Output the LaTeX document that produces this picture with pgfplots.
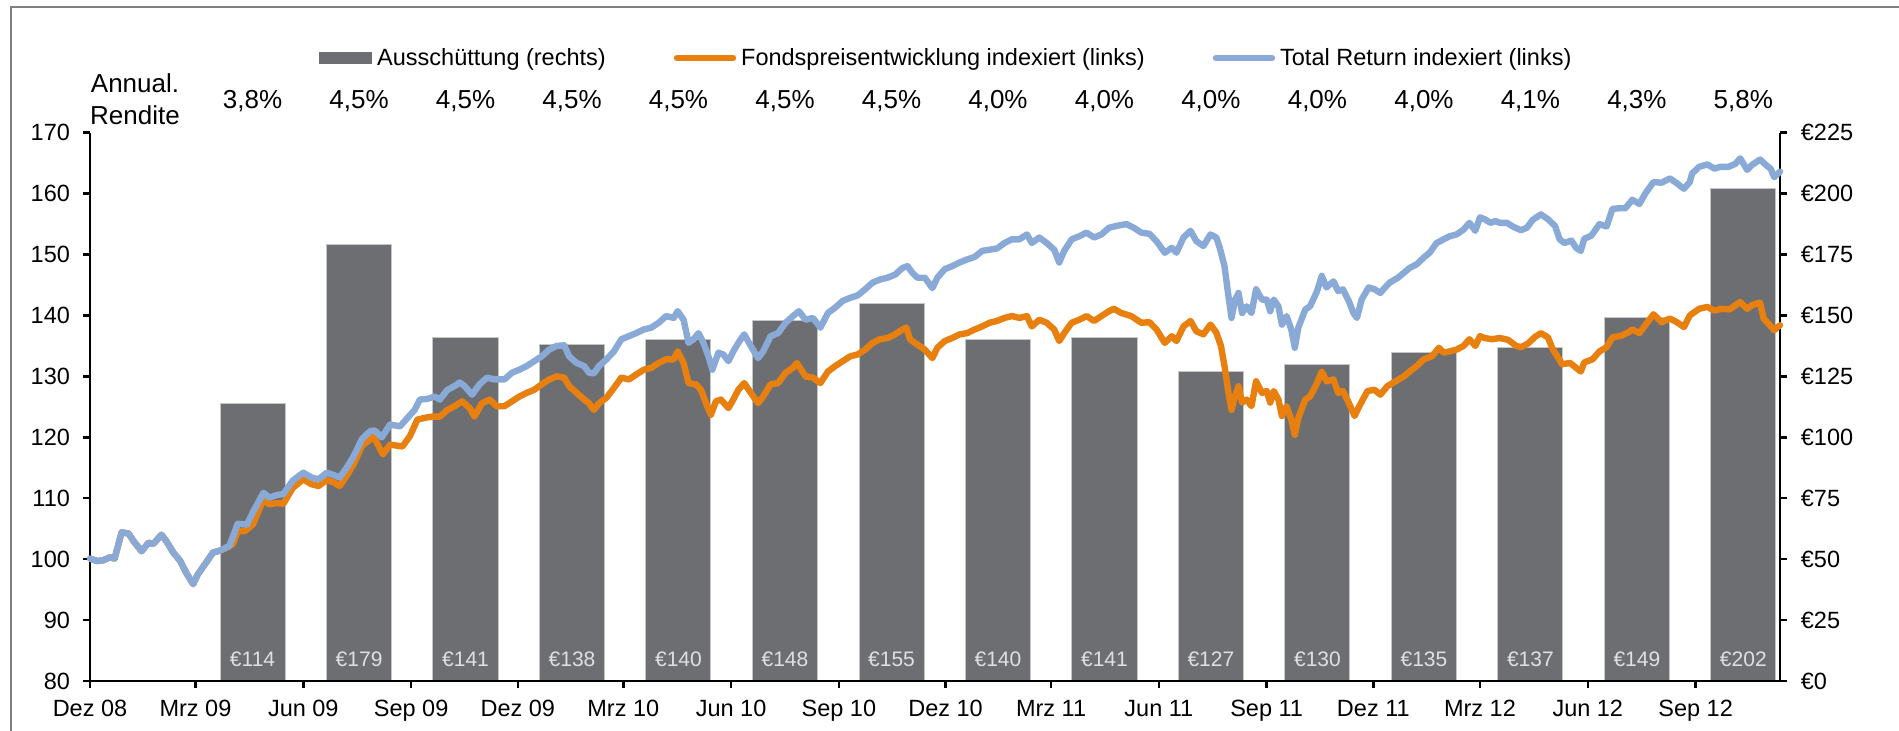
\documentclass[border=0pt]{standalone}
\usepackage{fontspec}
\setmainfont{Liberation Sans}
\usepackage{pgfplots}
\usepackage{pgfplotstable}
\pgfplotsset{compat=1.18}
\definecolor{barg}{RGB}{109,110,114}
\definecolor{orng}{RGB}{232,128,16}
\definecolor{blu}{RGB}{137,170,214}
\definecolor{framec}{RGB}{128,128,128}

\pgfplotstableread{
x v
138.7 114
229.6 179
320.4 141
411.3 138
502.1 140
593.0 148
683.9 155
774.7 140
865.6 141
956.4 127
1047.3 130
1138.2 135
1229.0 137
1319.9 149
1410.7 202
}\bardata

\pgfplotstableread{
d v
0 100.1
6 99.7
11 99.8
17 100.3
21 100.1
27 104.4
33 104.2
37 103
44 101.3
50 102.7
54 102.5
61 104
65 103
71 101.1
77 99.7
82 97.8
88 95.9
92 97.5
100 99.7
105 101.1
111 101.4
119 102.2
126 105.8
134 105.7
139 107.7
148 110.9
153 110.1
159 110.5
165 110.7
173 112.9
182 114.2
189 113.4
195 113.1
202 114.2
208 113.8
213 113.4
219 115
225 116.9
232 119.7
239 121
243 121.1
249 120
256 122.1
264.5 121.8
277 124.5
281.5 126.2
288 126.3
294 126.7
298.5 126.2
305 127.8
311 128.4
315.4 129.0
319.7 128.4
326 127
332.4 128.7
338.8 129.8
345 129.5
353.6 129.5
360 130.6
366.4 131.1
372.7 131.7
379 132.5
385.5 133.3
391.8 134.4
398.2 135
404.6 135.1
408.8 133.3
415.2 132.2
421.6 131.7
425.8 130.6
430 130.5
434.3 131.7
440.7 132.8
447 134.1
453.4 136.1
459.8 136.6
466 137.1
472.5 137.7
478.9 138
485.2 138.8
491.6 139.9
498 139.6
501.4 140.7
506.5 139.3
510.7 135.5
515 136.1
519.2 137.1
523.4 135.5
527.7 133.3
531 131.1
536.2 133.9
540.4 133.6
544.7 132.5
548.9 134.1
553.2 135.5
558.2 136.9
563.8 135
570 133
574.4 134.1
580.7 136.6
587.1 137.1
593.5 138.8
599.8 139.9
604.9 140.7
610.5 139.3
616.8 139.6
623.2 138
629.6 140.4
635.9 141.3
642.3 142.4
648.7 142.9
655 143.3
661.4 144.3
667.8 145.4
674.1 145.9
680.5 146.2
686.9 146.7
693.2 147.8
697.5 148.1
701.7 147
706 146.2
712.3 146.2
718.7 144.5
723 146.2
729.3 147.6
735.7 148.1
742 148.7
748.4 149.2
754.8 149.6
761.2 150.6
767.5 150.8
773.9 151
780.3 151.9
786.6 152.5
793 152.5
799.4 153.3
803.6 151.9
810 152.8
816.3 151.9
822.7 150.8
827 148.7
831.2 150.6
837.6 152.5
844 153
850.3 153.6
856.7 152.8
863 153.3
869.4 154.4
875.8 154.7
884.3 155
890.6 154.4
897 153.6
904 153.4
910 152.2
917 150.3
923 151.1
927 150.3
933 152.8
939 153.9
944 152.2
950 151.4
956 153.3
961 152.8
964 151.1
968 148.1
971 143.7
974 139.6
977 142.6
980 143.7
983 140.4
987 141.5
991 140.4
995 144.3
1000 142.6
1004 142.6
1007 140.7
1010 142.6
1014 141.5
1017 138.5
1021 139.9
1025 137.7
1028 134.7
1031 138
1037 141
1041 141.5
1047 144
1051 146.5
1055 144.6
1061 145.6
1065 144
1069 144.3
1074 142.4
1078 140.4
1081 139.6
1085 142.6
1091 144.6
1096 144.3
1101 143.7
1105 144.6
1109 145.4
1116 146.2
1121 147
1126 147.8
1132 148.4
1138 149.5
1143 150.3
1149 151.9
1155 152.5
1160 153
1166 153.3
1172 154.1
1177 155.2
1182 153.9
1186 156.1
1190 155.8
1195 155.2
1199 155.5
1203 155.2
1209 155.2
1215 154.5
1221 154
1226 154.4
1231 155.7
1238 156.6
1244 155.8
1250 154.7
1254 152.5
1258 151.9
1264 152.3
1268 151.1
1272 150.6
1275 152.6
1281 153.1
1288 155
1294 154.6
1299 157.5
1305 157.6
1310 157.6
1316 159
1322 158.3
1327 160
1334 161.9
1341 161.8
1348 162.5
1354 161.7
1360 160.8
1365 161.9
1367 163.3
1373 164.4
1380 164.8
1386 164.1
1391 164.4
1398 164.4
1404 164.9
1408 165.8
1414 163.9
1418 164.7
1425 165.6
1430 164.7
1434 164.1
1437 162.7
1442 163.6
}\bluedata

\pgfplotstableread{
d v
0 100.1
6 99.7
11 99.8
17 100.3
21 100.1
27 104.4
33 104.2
37 103
44 101.3
50 102.7
54 102.5
61 104
65 103
71 101.1
77 99.7
82 97.8
88 95.9
92 97.5
100 99.7
105 101.1
111 101.4
117 101.9
122 102.5
126 104.6
132 104.6
139 105.7
148 109.8
153 109
159 109.2
165 109.1
173 111.7
182 113.1
189 112.3
195 112
202 113
208 112.6
213 112
219 113.7
225 115.6
232 118.6
242 120.1
250 117.2
256 118.8
266.6 118.5
273 120.2
279.3 122.9
285.7 123.2
292 123.4
298.5 123.4
305 124.5
311 125.1
317.5 125.9
324 124.8
328 123.4
334.5 125.6
341 126.2
347 125.1
353.6 125.1
360 125.9
366.4 126.7
372.7 127.3
379 127.8
385.5 128.7
391.8 129.5
398.2 130
404.6 129.8
408.8 128.4
415.2 127.3
421.6 126.2
425.8 125.6
430 124.5
434.3 125.6
440.7 126.5
447 128.1
453.4 129.8
459.8 129.5
466 130.3
472.5 131.1
478.9 131.4
485.2 132.2
491.6 132.8
498 132.8
501.4 134.1
506.5 132.2
510.7 128.9
517 128.7
521.3 127.8
525.6 125.6
529.8 123.7
534 125.9
538.3 126.2
544.7 124.8
548.9 126.2
553.2 127.8
558.2 128.9
563.8 127.3
570 125.6
574.4 126.7
580.7 128.7
587.1 128.9
593.5 130.6
599.8 131.4
603.2 132.2
610.5 130
616.8 129.8
623.2 128.9
629.6 130.8
635.9 131.7
642.3 132.5
648.7 133.3
655 133.6
661.4 134.4
667.8 135.5
674.1 136.1
680.5 136.3
686.9 136.9
693.2 137.7
696.6 138
699.6 136.1
706 135.2
712.3 134.4
718.7 133
723 134.7
729.3 135.8
735.7 136.3
742 136.9
748.4 137.1
754.8 137.7
761.2 138.2
767.5 138.8
773.9 139.1
780.3 139.6
786.6 139.9
793 139.6
799.4 139.9
803.6 138.2
810 139.3
816.3 138.8
822.7 137.7
827 135.8
831.2 137.1
837.6 138.8
844 139.3
850.3 139.9
856.7 139.1
863 139.9
869.4 140.7
873.6 141.1
880 140.4
888.5 139.9
897 138.8
904 138.9
910 137.7
917 135.5
923 136.6
927 135.8
933 138.2
939 139.1
944 137.4
950 136.9
956 138.5
961 137.2
965 135
968 131.7
971 127.8
974 124.5
977 126.7
980 128.4
983 125.7
987 126.2
991 125.1
995 129.2
1000 127.3
1004 127.6
1007 125.7
1010 127.6
1014 126.2
1017 123.5
1021 125.1
1025 122.9
1028 120.4
1031 123.2
1037 126.2
1041 126.7
1047 128.9
1051 130.8
1055 129.2
1061 129.5
1065 127.3
1069 127.6
1074 125.7
1079 123.5
1083 125.1
1090 127.6
1096 127.8
1101 127
1107 128.4
1114 129.2
1121 130
1126 130.8
1132 131.7
1138 132.8
1145 133.3
1151 134.7
1155 133.9
1160 134.1
1166 134.4
1172 135
1177 136.1
1182 135
1186 136.6
1190 136.3
1196 136.1
1203 136.3
1210 136
1217 135
1221 134.8
1227 135.4
1233 136.5
1238 137.1
1244 136.4
1248 134.5
1252 133.3
1256 132
1263 132.2
1268 131.4
1272 130.8
1275 132.3
1282 132.8
1288 134.1
1294 134.8
1299 136.4
1307 136.7
1313 137.3
1316 137.7
1322 137.1
1327 138.4
1334 140.2
1341 138.9
1348 139.5
1354 138.9
1360 138.1
1365 140
1373 141.1
1380 141.4
1386 140.8
1392 141.1
1399 141
1408 142.2
1414 141.1
1418 141.7
1425 142.1
1428 139.5
1431 138.9
1437 137.6
1442 138.4
}\orangedata

\pgfplotsset{
  base/.style={
    scale only axis, width=845pt, height=274.15pt,
    at={(45pt,25pt)}, anchor=south west,
    xmin=0, xmax=1442, clip=false,
    axis line style={line width=1.25pt, black},
    tick style={line width=1.25pt, black},
    major tick length=3.5pt, tick align=outside,
    ticklabel style={font=\fontsize{11.75}{14}\selectfont},
  },
  lineleg/.style={legend image code/.code={\draw[##1] (0pt,0pt) -- (28pt,0pt);}},
  barleg/.style={legend image code/.code={\fill[barg] (0pt,-2.75pt) rectangle (26pt,2.75pt);}},
}
\newcommand{\pct}{\fontsize{13}{16}\selectfont}
\newcommand{\eurl}{\fontsize{10.5}{12}\selectfont}

\begin{document}
\begin{tikzpicture}[font=\fontsize{11.75}{14}\selectfont]
\path[use as bounding box] (0,0) rectangle (949.5pt,365.5pt);
\begin{scope}
\clip (0,0) rectangle (949.5pt,365.5pt);
\draw[framec, line width=1pt] (5.5pt,-20pt) rectangle (970pt,361.85pt);
\end{scope}

\begin{axis}[base, ymin=0, ymax=225,
  axis y line*=right, axis x line=none,
  ytick={0,25,50,75,100,125,150,175,200,225},
  yticklabels={€0,€25,€50,€75,€100,€125,€150,€175,€200,€225},
  yticklabel style={xshift=3.4pt},
]
\addplot[ybar, bar width=55.5, fill=barg, draw=gray!45, line width=0.5pt] table[x=x,y=v] \bardata;
\begin{scope}[every node/.style={anchor=base, yshift=7.25pt, font=\eurl, text=white!88!black}]
\node at (axis cs:138.7,0) {€114};
\node at (axis cs:229.6,0) {€179};
\node at (axis cs:320.4,0) {€141};
\node at (axis cs:411.3,0) {€138};
\node at (axis cs:502.1,0) {€140};
\node at (axis cs:593.0,0) {€148};
\node at (axis cs:683.9,0) {€155};
\node at (axis cs:774.7,0) {€140};
\node at (axis cs:865.6,0) {€141};
\node at (axis cs:956.4,0) {€127};
\node at (axis cs:1047.3,0) {€130};
\node at (axis cs:1138.2,0) {€135};
\node at (axis cs:1229.0,0) {€137};
\node at (axis cs:1319.9,0) {€149};
\node at (axis cs:1410.7,0) {€202};
\end{scope}
\begin{scope}[every node/.style={anchor=base, yshift=12.1pt, font=\pct}]
\node at (axis cs:138.7,225) {3,8\%};
\node at (axis cs:229.6,225) {4,5\%};
\node at (axis cs:320.4,225) {4,5\%};
\node at (axis cs:411.3,225) {4,5\%};
\node at (axis cs:502.1,225) {4,5\%};
\node at (axis cs:593.0,225) {4,5\%};
\node at (axis cs:683.9,225) {4,5\%};
\node at (axis cs:774.7,225) {4,0\%};
\node at (axis cs:865.6,225) {4,0\%};
\node at (axis cs:956.4,225) {4,0\%};
\node at (axis cs:1047.3,225) {4,0\%};
\node at (axis cs:1138.2,225) {4,0\%};
\node at (axis cs:1229.0,225) {4,1\%};
\node at (axis cs:1319.9,225) {4,3\%};
\node at (axis cs:1410.7,225) {5,8\%};
\end{scope}
\end{axis}

\begin{axis}[base, ymin=80, ymax=170,
  axis y line*=left, axis x line*=bottom,
  ytick={80,90,100,110,120,130,140,150,160,170},
  yticklabels={80,90,100,110,120,130,140,150,160,170},
  yticklabel style={xshift=-3pt},
  xtick={0,90,182,274,365,455,547,639,730,820,912,1004,1095,1186,1278,1370},
  xticklabels={Dez 08,Mrz 09,Jun 09,Sep 09,Dez 09,Mrz 10,Jun 10,Sep 10,Dez 10,Mrz 11,Jun 11,Sep 11,Dez 11,Mrz 12,Jun 12,Sep 12},
  xticklabel style={yshift=-2.5pt},
  legend columns=3,
  legend style={at={(axis description cs:0.1355,1.1362)}, anchor=west,
    draw=none, fill=none, inner sep=0pt, font=\fontsize{11.75}{14}\selectfont,
    nodes={inner sep=0pt},
    /tikz/every odd column/.append style={column sep=2.5pt},
    /tikz/every even column/.append style={column sep=34pt}},
]
\addlegendimage{barleg}
\addlegendentry{Ausschüttung (rechts)}
\addplot[orng, line width=3.2pt, line join=round, line cap=round, lineleg] table[x=d,y=v] \orangedata;
\addlegendentry{Fondspreisentwicklung indexiert (links)}
\addplot[blu, line width=3.2pt, line join=round, line cap=round, lineleg] table[x=d,y=v] \bluedata;
\addlegendentry{Total Return indexiert (links)}
\end{axis}

\node[anchor=base, font=\pct] at (67.5pt,319.35pt) {Annual.};
\node[anchor=base, font=\pct] at (67.5pt,303.35pt) {Rendite};
\end{tikzpicture}
\end{document}
